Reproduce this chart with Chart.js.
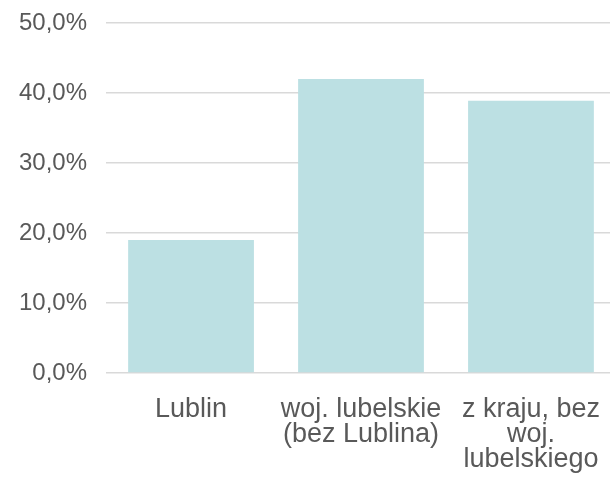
<!DOCTYPE html>
<html>
<head>
<meta charset="utf-8">
<script src="https://cdn.jsdelivr.net/npm/chart.js@4"></script>
<style>
  html, body { margin: 0; padding: 0; background: #fff; overflow: hidden; }
  #wrap { width: 624px; height: 488px; }
</style>
</head>
<body>
<div id="wrap"><canvas id="myChart" width="624" height="488"></canvas></div>
<script>
const categories = [
  ["Lublin"],
  ["woj. lubelskie", "(bez Lublina)"],
  ["z kraju, bez", "woj.", "lubelskiego"],
];
const shares = [0.19, 0.42, 0.389];
const yTicks = [0, 0.1, 0.2, 0.3, 0.4, 0.5];

const fmtPct = (v) => (v * 100).toFixed(1).replace(".", ",") + "%";

const ctx = document.getElementById("myChart");
new Chart(ctx, {
  type: "bar",
  data: {
    labels: categories,
    datasets: [
      {
        label: "Udział",
        data: shares,
        backgroundColor: "#bce0e3",
        borderWidth: 0,
        barPercentage: 0.74,
        categoryPercentage: 1,
      },
    ],
  },
  options: {
    responsive: false,
    animation: false,
    layout: { padding: { top: 23, left: 0, right: 0, bottom: -8 } },
    plugins: {
      legend: { display: false },
      tooltip: { enabled: false },
    },
    scales: {
      x: {
        grid: { display: false, drawTicks: false },
        border: { display: false },
        ticks: {
          color: "#595959",
          font: { family: "'Liberation Sans', Arial, sans-serif", size: 27, lineHeight: 0.926 },
          padding: 24,
          maxRotation: 0,
          autoSkip: false,
        },
      },
      y: {
        min: 0,
        max: 0.5,
        afterBuildTicks(scale) {
          scale.ticks = yTicks.map((v) => ({ value: v }));
        },
        grid: { color: "#d9d9d9", lineWidth: 1.5, drawTicks: false },
        border: { display: false },
        ticks: {
          color: "#595959",
          // small lineHeight so the top label does not push the plot down
          font: { family: "'Liberation Sans', Arial, sans-serif", size: 24, lineHeight: 0.1 },
          padding: 19,
          callback: (v) => fmtPct(v),
        },
      },
    },
  },
});
</script>
</body>
</html>
